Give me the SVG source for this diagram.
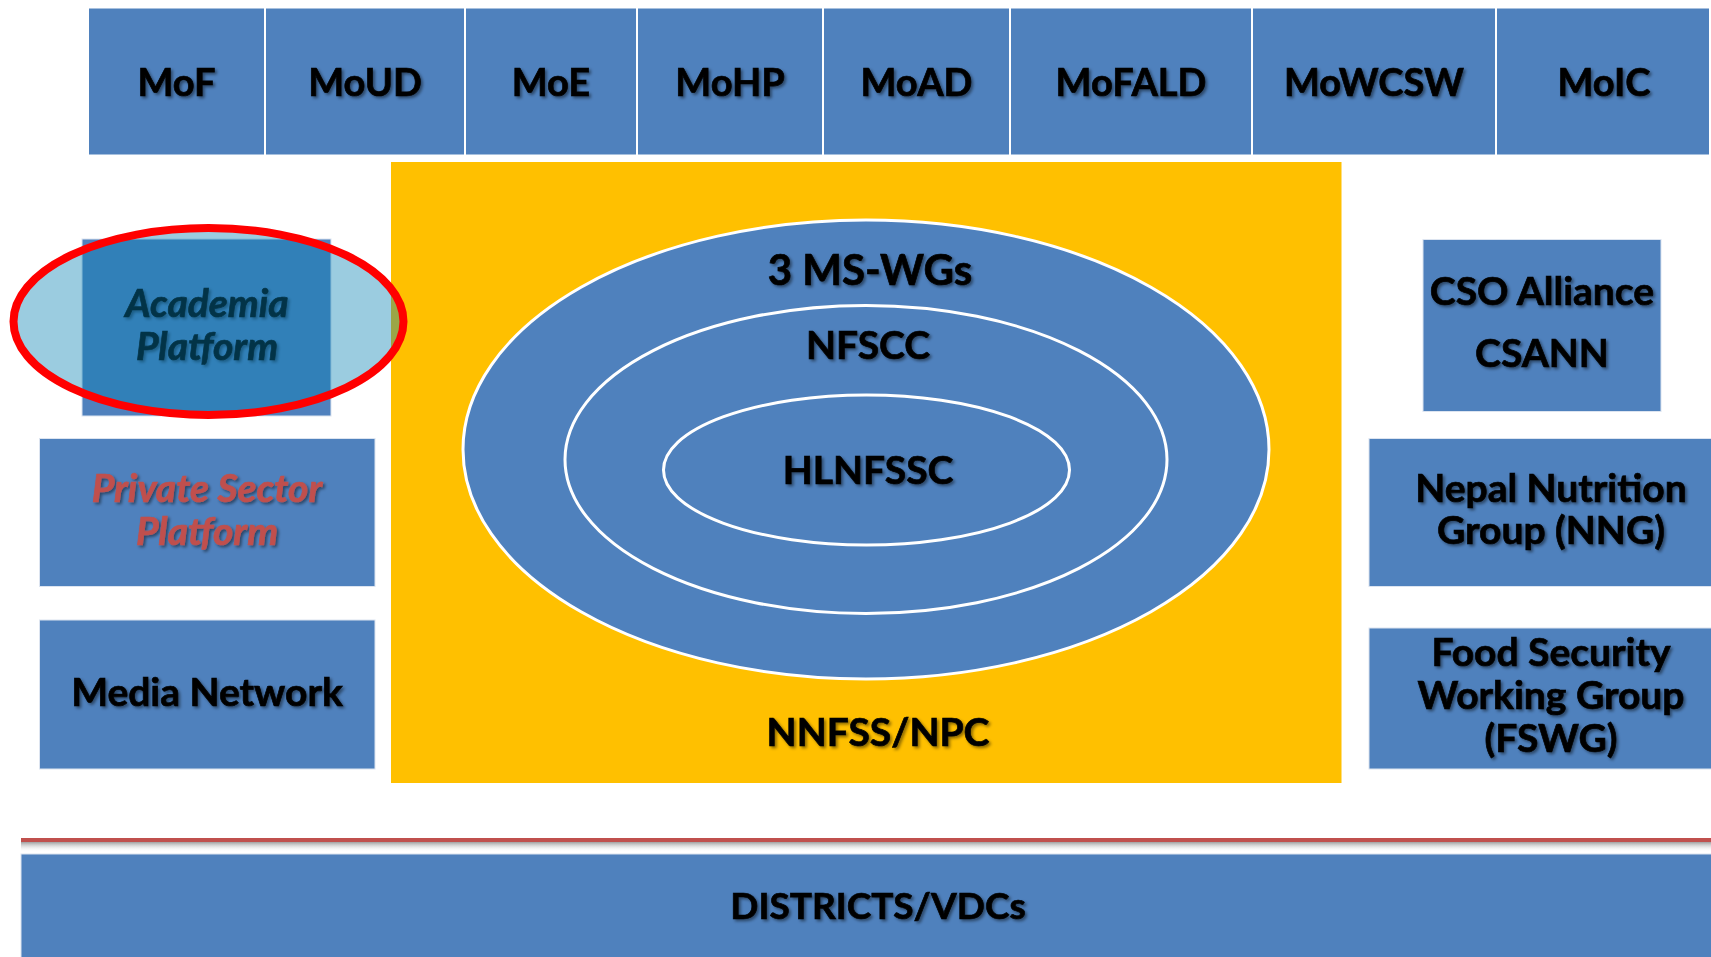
<svg xmlns="http://www.w3.org/2000/svg" width="1711" height="957" viewBox="0 0 1711 957">
<defs>
<filter id="ts" x="-10%" y="-20%" width="130%" height="150%">
<feDropShadow dx="2" dy="2" stdDeviation="1.5" flood-color="#000" flood-opacity="0.45"/>
</filter>
<linearGradient id="lineShadow" x1="0" y1="0" x2="0" y2="1">
<stop offset="0" stop-color="#888" stop-opacity="0.8"/>
<stop offset="1" stop-color="#fff" stop-opacity="0"/>
</linearGradient>
</defs>
<style>
.box{fill:#4F81BD;stroke:#DCE4F0;stroke-width:1}
.top{fill:#4F81BD;stroke:#FFFFFF;stroke-width:2}
.t{font-family:Lato,"Liberation Sans",sans-serif;font-weight:bold;font-size:39px;fill:#000;stroke:#000;stroke-width:0.7;text-anchor:middle;filter:url(#ts)}
.tt{font-size:38px}
.it{font-style:italic}
.red{fill:#C0504D;stroke:#C0504D}
.ring{fill:#4F81BD;stroke:#FFFFFF;stroke-width:3}
</style>
<rect width="1711" height="957" fill="#FFFFFF"/>

<g id="MoF"><rect class="top" x="88" y="7.5" width="177" height="148"/><text class="t tt" x="176.5" y="96">MoF</text></g>
<g id="MoUD"><rect class="top" x="265" y="7.5" width="200" height="148"/><text class="t tt" x="365" y="96">MoUD</text></g>
<g id="MoE"><rect class="top" x="465" y="7.5" width="172" height="148"/><text class="t tt" x="551" y="96">MoE</text></g>
<g id="MoHP"><rect class="top" x="637" y="7.5" width="186" height="148"/><text class="t tt" x="730" y="96">MoHP</text></g>
<g id="MoAD"><rect class="top" x="823" y="7.5" width="187" height="148"/><text class="t tt" x="916.5" y="96">MoAD</text></g>
<g id="MoFALD"><rect class="top" x="1010" y="7.5" width="242" height="148"/><text class="t tt" x="1131" y="96">MoFALD</text></g>
<g id="MoWCSW"><rect class="top" x="1252" y="7.5" width="244" height="148"/><text class="t tt" x="1374" y="96">MoWCSW</text></g>
<g id="MoIC"><rect class="top" x="1496" y="7.5" width="214" height="148"/><text class="t tt" x="1604" y="96">MoIC</text></g>

<g id="NNFSS-NPC">
<rect x="391" y="162" width="950.5" height="621" fill="#FFC000"/>
<text class="t" x="878" y="746">NNFSS/NPC</text>
</g>
<g id="MS-WGs">
<ellipse class="ring" cx="866" cy="449.5" rx="403" ry="229.5"/>
<text class="t" x="870" y="285" style="font-size:42px">3 MS-WGs</text>
</g>
<g id="NFSCC">
<ellipse class="ring" cx="866" cy="459.5" rx="301" ry="154"/>
<text class="t" x="868" y="359">NFSCC</text>
</g>
<g id="HLNFSSC">
<ellipse class="ring" cx="866.5" cy="470" rx="203" ry="75"/>
<text class="t" x="868" y="484">HLNFSSC</text>
</g>

<g id="Academia">
<rect class="box" x="82" y="239" width="249" height="177"/>
<text class="t it" x="207" y="317">Academia</text>
<text class="t it" x="207" y="360">Platform</text>
<ellipse cx="208.5" cy="321.5" rx="195" ry="93.5" fill="rgb(4,127,177)" fill-opacity="0.4" stroke="#FF0000" stroke-width="8"/>
</g>
<g id="PrivateSector">
<rect class="box" x="39.5" y="438.5" width="335.5" height="148"/>
<text class="t it red" x="207" y="502">Private Sector</text>
<text class="t it red" x="207" y="545">Platform</text>
</g>
<g id="MediaNetwork">
<rect class="box" x="39.5" y="620" width="335.5" height="149"/>
<text class="t" x="207" y="706">Media Network</text>
</g>

<g id="CSO">
<rect class="box" x="1423" y="239.5" width="238" height="172"/>
<text class="t" x="1542" y="305">CSO Alliance</text>
<text class="t" x="1542" y="367">CSANN</text>
</g>
<g id="NNG">
<rect class="box" x="1369" y="438.5" width="350" height="148"/>
<text class="t" x="1551" y="502">Nepal Nutrition</text>
<text class="t" x="1551" y="544">Group (NNG)</text>
</g>
<g id="FSWG">
<rect class="box" x="1369" y="628" width="350" height="141"/>
<text class="t" x="1551" y="666">Food Security</text>
<text class="t" x="1551" y="709">Working Group</text>
<text class="t" x="1551" y="752">(FSWG)</text>
</g>

<g id="connectors">
<rect x="21" y="842" width="1690" height="10" fill="url(#lineShadow)"/>
<line x1="21" y1="840" x2="1711" y2="840" stroke="#C0504D" stroke-width="4"/>
</g>

<g id="Districts">
<rect x="21" y="854" width="1700" height="110" fill="#4F81BD" stroke="#DCE4F0" stroke-width="1"/>
<text class="t" x="878" y="919" style="font-size:37px">DISTRICTS/VDCs</text>
</g>
</svg>
